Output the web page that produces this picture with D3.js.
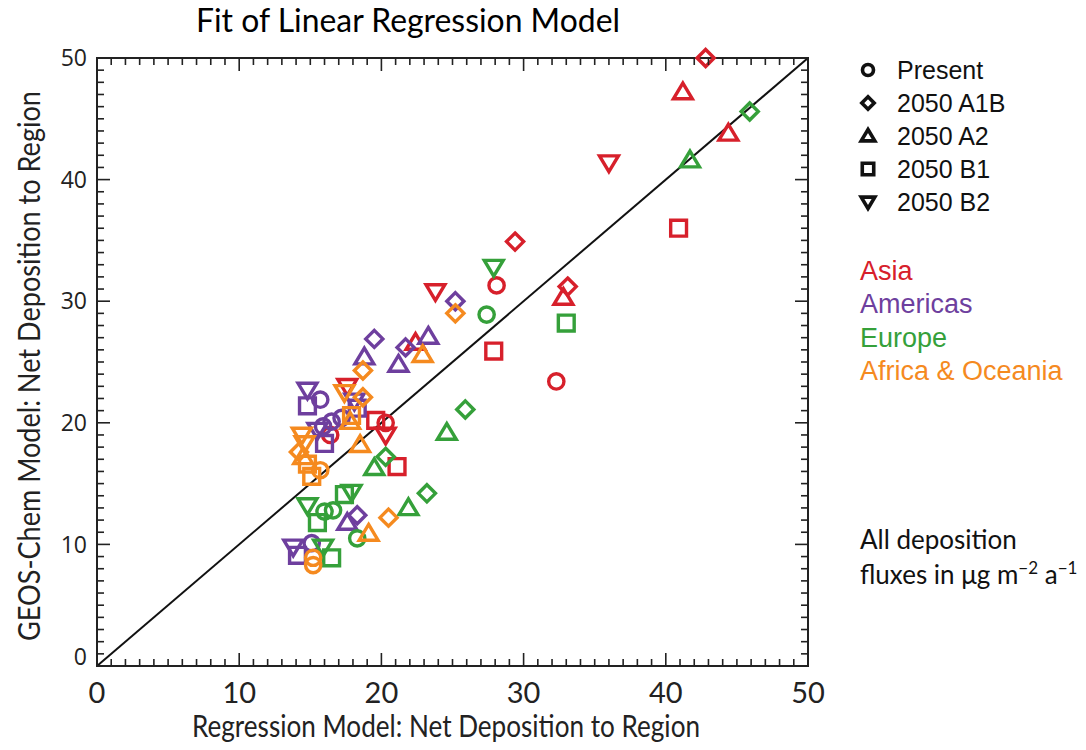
<!DOCTYPE html>
<html>
<head>
<meta charset="utf-8">
<script src="https://cdn.jsdelivr.net/npm/d3@7"></script>
<style>
  body { margin: 0; background: #fff; }
  svg { display: block; }
</style>
</head>
<body>
<svg id="chart" width="1086" height="750"></svg>
<script>
// Regions (colour) and scenarios (marker shape)
var regions = ['Asia', 'Americas', 'Europe', 'Africa & Oceania'];
var regionColors = ['#d7202b', '#6e3f9e', '#35a03a', '#f58a1f'];
var scenarios = ['Present', '2050 A1B', '2050 A2', '2050 B1', '2050 B2'];

// points: [regression, geos-chem]
var asia = {
  'Present':  [[28.1, 31.3], [32.3, 23.4], [20.3, 20.0], [16.4, 19.0]],
  '2050 A1B': [[42.8, 50.0], [29.4, 34.9], [33.1, 31.2]],
  '2050 A2':  [[41.2, 47.2], [44.4, 43.8], [32.8, 30.3], [22.4, 26.6]],
  '2050 B1':  [[40.9, 36.0], [27.9, 25.9], [19.6, 20.2], [21.1, 16.4]],
  '2050 B2':  [[36.0, 41.4], [23.8, 30.8], [17.6, 23.0], [20.3, 19.0]]
};
var americas = {
  'Present':  [[15.7, 21.9], [17.2, 20.4], [16.5, 20.1], [15.9, 19.7], [15.1, 10.1]],
  '2050 A1B': [[25.2, 30.0], [19.5, 26.9], [21.7, 26.2], [18.3, 12.4]],
  '2050 A2':  [[23.3, 27.1], [18.8, 25.4], [21.2, 24.8], [17.6, 11.8]],
  '2050 B1':  [[14.8, 21.4], [18.3, 21.2], [16.0, 18.3], [14.1, 9.1]],
  '2050 B2':  [[14.8, 22.7], [18.1, 21.8], [15.5, 19.4], [13.8, 9.8]]
};
var europe = {
  'Present':  [[27.4, 28.9], [16.0, 12.7], [16.6, 12.8], [18.3, 10.5]],
  '2050 A1B': [[45.9, 45.6], [25.9, 21.1], [20.3, 17.2], [23.2, 14.2]],
  '2050 A2':  [[41.7, 41.6], [24.6, 19.2], [19.5, 16.3], [21.9, 13.0]],
  '2050 B1':  [[33.0, 28.2], [17.4, 14.1], [15.5, 11.8], [16.5, 8.9]],
  '2050 B2':  [[27.9, 32.8], [17.9, 14.3], [14.8, 13.2], [15.9, 9.8]]
};
var africaOceania = {
  'Present':  [[15.7, 16.1], [15.2, 8.9], [15.2, 8.3]],
  '2050 A1B': [[25.2, 29.0], [18.7, 24.3], [18.7, 22.1], [20.5, 12.2], [14.2, 17.6]],
  '2050 A2':  [[22.9, 25.6], [17.8, 20.1], [18.5, 18.2], [19.1, 10.9], [14.5, 17.2]],
  '2050 B1':  [[17.9, 20.6], [14.8, 16.6], [15.1, 15.6]],
  '2050 B2':  [[17.4, 22.5], [14.4, 19.0], [14.6, 18.3]]
};
var regionData = [asia, americas, europe, africaOceania];

var xTicks = [0, 10, 20, 30, 40, 50];
var yTicks = [0, 10, 20, 30, 40, 50];

var svg = d3.select('#chart'),
  margin = {top: 58, right: 278, bottom: 84, left: 97},
  width = svg.attr('width') - margin.left - margin.right,
  height = svg.attr('height') - margin.top - margin.bottom;

var x = d3.scaleLinear().domain([0, 50]).range([0, width]);
var y = d3.scaleLinear().domain([0, 50]).range([height, 0]);

var g = svg.append('g')
  .attr('transform', 'translate(' + margin.left + ',' + margin.top + ')');

var labelFont = 'Lato, "Open Sans", sans-serif';
var tickFont = '"Open Sans", "DejaVu Sans", sans-serif';

// marker shapes, one per scenario
function markerPath(scenario, s) {
  var h = s / 2;
  if (scenario === 'Present') {
    return d3.symbol().type(d3.symbolCircle).size(Math.PI * h * h * 0.72)();
  } else if (scenario === '2050 A1B') {
    var d = h * 0.95;
    return 'M0,' + (-d) + 'L' + d + ',0L0,' + d + 'L' + (-d) + ',0Z';
  } else if (scenario === '2050 A2') {
    return 'M0,' + (-h) + 'L' + (h * 1.05) + ',' + (h * 0.75) + 'L' + (-h * 1.05) + ',' + (h * 0.75) + 'Z';
  } else if (scenario === '2050 B1') {
    var q = h * 0.88;
    return 'M' + (-q) + ',' + (-q) + 'H' + q + 'V' + q + 'H' + (-q) + 'Z';
  }
  return 'M0,' + h + 'L' + (h * 1.05) + ',' + (-h * 0.75) + 'L' + (-h * 1.05) + ',' + (-h * 0.75) + 'Z';
}

// frame
g.append('rect')
  .attr('width', width).attr('height', height)
  .attr('fill', 'none').attr('stroke', '#222').attr('stroke-width', 2);

// 1:1 line
g.append('line')
  .attr('x1', x(0)).attr('y1', y(0)).attr('x2', x(50)).attr('y2', y(50))
  .attr('stroke', '#111').attr('stroke-width', 2);

// points
regionData.forEach(function(reg, ri) {
  scenarios.forEach(function(sc) {
    g.selectAll(null)
      .data(reg[sc])
      .enter()
      .append('path')
        .attr('d', markerPath(sc, 18))
        .attr('transform', function(d) { return 'translate(' + x(d[0]) + ',' + y(d[1]) + ')'; })
        .attr('fill', 'none')
        .attr('stroke', regionColors[ri])
        .attr('stroke-width', 3.4)
        .attr('stroke-linejoin', 'miter');
  });
});

// minor + major ticks on all four sides, pointing inward
var minor = d3.range(0, 51, 1);
function tickLen(v) { return v % 10 === 0 ? 13 : 7; }
var ticks = g.append('g').attr('stroke', '#222').attr('stroke-width', 1.6);
minor.forEach(function(v) {
  ticks.append('line').attr('x1', x(v)).attr('x2', x(v)).attr('y1', height).attr('y2', height - tickLen(v));
  ticks.append('line').attr('x1', x(v)).attr('x2', x(v)).attr('y1', 0).attr('y2', tickLen(v));
  ticks.append('line').attr('y1', y(v)).attr('y2', y(v)).attr('x1', 0).attr('x2', tickLen(v));
  ticks.append('line').attr('y1', y(v)).attr('y2', y(v)).attr('x1', width).attr('x2', width - tickLen(v));
});

// tick labels
g.selectAll('.xlab')
  .data(xTicks)
  .enter()
  .append('text')
    .attr('x', function(d) { return x(d); })
    .attr('y', height + 37)
    .attr('text-anchor', 'middle')
    .attr('font-family', labelFont)
    .attr('font-size', 29)
    .attr('fill', '#222')
    .text(function(d) { return d; });

g.selectAll('.ylab')
  .data(yTicks)
  .enter()
  .append('text')
    .attr('x', -10)
    .attr('y', function(d) { return d === 0 ? y(d) - 9 : y(d); })
    .attr('dy', '0.36em')
    .attr('text-anchor', 'end')
    .attr('font-family', tickFont)
    .attr('font-size', 23)
    .attr('fill', '#222')
    .text(function(d) { return d; });

// title and axis titles
svg.append('text')
  .attr('x', 408).attr('y', 32)
  .attr('text-anchor', 'middle')
  .attr('font-family', labelFont)
  .attr('font-size', 33)
  .attr('fill', '#000')
  .attr('textLength', 424).attr('lengthAdjust', 'spacingAndGlyphs')
  .text('Fit of Linear Regression Model');

svg.append('text')
  .attr('x', 446).attr('y', 737)
  .attr('text-anchor', 'middle')
  .attr('font-family', labelFont)
  .attr('font-size', 30)
  .attr('fill', '#222')
  .attr('textLength', 508).attr('lengthAdjust', 'spacingAndGlyphs')
  .text('Regression Model: Net Deposition to Region');

svg.append('text')
  .attr('transform', 'translate(40,' + (margin.top + height / 2 + 4) + ') rotate(-90)')
  .attr('text-anchor', 'middle')
  .attr('font-family', labelFont)
  .attr('font-size', 30)
  .attr('fill', '#222')
  .attr('textLength', 550).attr('lengthAdjust', 'spacingAndGlyphs')
  .text('GEOS-Chem Model: Net Deposition to Region');

// scenario legend
var legend = svg.append('g').attr('transform', 'translate(868,70)');
scenarios.forEach(function(sc, i) {
  legend.append('path')
    .attr('d', markerPath(sc, 13))
    .attr('transform', 'translate(0,' + (i * 33) + ')')
    .attr('fill', 'none').attr('stroke', '#111').attr('stroke-width', 3.6);
  legend.append('text')
    .attr('x', 29).attr('y', i * 33)
    .attr('dy', '0.36em')
    .attr('font-family', '"Liberation Sans", Arial, sans-serif')
    .attr('font-size', 25)
    .attr('fill', '#111')
    .text(sc);
});

// region legend
regions.forEach(function(r, i) {
  svg.append('text')
    .attr('x', 860).attr('y', 270 + i * 33.5)
    .attr('dy', '0.36em')
    .attr('font-family', '"Liberation Sans", Arial, sans-serif')
    .attr('font-size', 27)
    .attr('fill', regionColors[i])
    .text(r);
});

// units note
var note = svg.append('text')
  .attr('font-family', labelFont)
  .attr('font-size', 26)
  .attr('fill', '#111');
note.append('tspan').attr('x', 860).attr('y', 549).text('All deposition');
var l2 = note.append('tspan').attr('x', 860).attr('y', 584);
l2.text('fluxes in μg m');
note.append('tspan').attr('dy', -10).attr('font-size', 17).text('−2');
note.append('tspan').attr('dy', 10).text(' a');
note.append('tspan').attr('dy', -10).attr('font-size', 17).text('−1');
</script>
</body>
</html>
